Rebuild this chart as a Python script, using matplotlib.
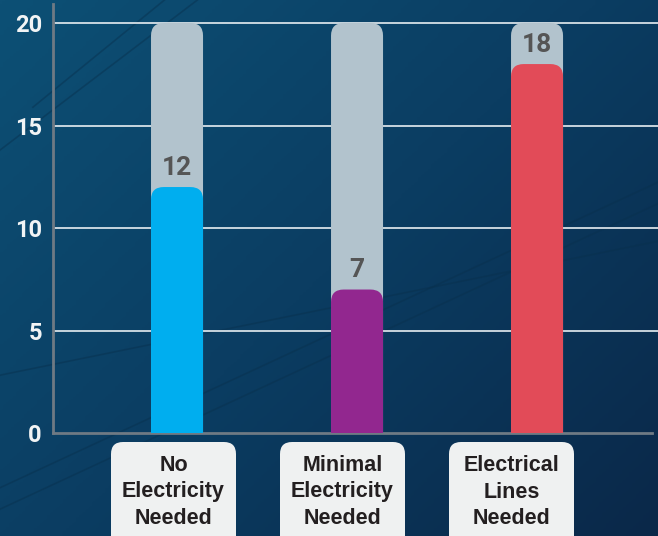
import numpy as np
import matplotlib
matplotlib.use('Agg')
import matplotlib.pyplot as plt
from matplotlib.patches import FancyBboxPatch
from matplotlib.colors import LinearSegmentedColormap

# 数据
categories = ['No\nElectricity\nNeeded', 'Minimal\nElectricity\nNeeded', 'Electrical\nLines\nNeeded']
values = [12, 7, 18]
max_value = 20
bar_colors = ['#00aeef', '#92278f', '#e24b58']
yticks = [0, 5, 10, 15, 20]

W, H = 658, 536
fig = plt.figure(figsize=(W / 100, H / 100), dpi=100)

# 背景渐变
bg = fig.add_axes([0, 0, 1, 1], zorder=-10)
gx, gy = np.meshgrid(np.linspace(0, 1, 200), np.linspace(0, 1, 200))
grad = 0.55 * gx + 0.45 * gy
cmap = LinearSegmentedColormap.from_list('bgc', ['#0d5075', '#0b3d62', '#0a2849'])
bg.imshow(grad, cmap=cmap, aspect='auto', extent=[0, 1, 0, 1], origin='upper')
# 几根电线
for (x0, y0, x1, y1) in [(0.0, 0.05, 1.0, 0.62), (0.0, 0.09, 1.0, 0.66), (0.25, 1.0, 0.05, 0.8),
                         (0.3, 1.0, 0.0, 0.72), (0.0, 0.3, 1.0, 0.55)]:
    bg.plot([x0, x1], [y0, y1], color='#08304d', lw=1.2, alpha=0.45)
bg.set_xlim(0, 1)
bg.set_ylim(0, 1)
bg.axis('off')

ax = fig.add_axes([53 / W, 1 - 433 / H, 605 / W, 429 / H])
ax.patch.set_alpha(0)
ax.set_xlim(-0.689, 2.672)
ax.set_ylim(0, 20.93)

x = np.arange(len(values))
bw = 0.289
aspect = 180 / 20.5  # y单位/x单位 的像素比

for yv in yticks[1:]:
    ax.axhline(yv, color='#e8eef2', lw=1.2, zorder=1)

for i in x:
    gb = FancyBboxPatch((i - bw / 2, -2), bw, max_value + 2,
                        boxstyle='round,pad=0,rounding_size=0.07',
                        mutation_aspect=aspect, fc='#b2c3cd', ec='none', zorder=2)
    ax.add_patch(gb)
    cb = FancyBboxPatch((i - bw / 2, -2), bw, values[i] + 2,
                        boxstyle='round,pad=0,rounding_size=0.07',
                        mutation_aspect=aspect, fc=bar_colors[i], ec='none', zorder=3)
    ax.add_patch(cb)
    ax.text(i, values[i] + 0.95, str(values[i]), ha='center', va='center',
            fontsize=19, fontweight='bold', color='#555555', family='Roboto', zorder=4)

ax.set_yticks(yticks)
ax.set_yticklabels([str(t) for t in yticks], fontsize=17, fontweight='bold',
                   color='#f2f4f5', family='Roboto')
ax.tick_params(axis='y', length=0, pad=8)
ax.set_xticks([])
for s in ['top', 'right']:
    ax.spines[s].set_visible(False)
for s in ['left', 'bottom']:
    ax.spines[s].set_color('#6f7a84')
    ax.spines[s].set_linewidth(2)
ax.spines['bottom'].set_bounds(-0.689, 2.64)

# 底部标签框
box_cx = [173.5, 342.5, 511.5]
for cx, lab in zip(box_cx, categories):
    bx = FancyBboxPatch(((cx - 62.5) / 100, -0.2), 1.25, (H - 442) / 100 + 0.2,
                        boxstyle='round,pad=0,rounding_size=0.12',
                        transform=fig.dpi_scale_trans, fc='#eff1f1', ec='none')
    fig.patches.append(bx)
    fig.text(cx / W, 1 - 492 / H, lab, ha='center', va='center', fontsize=15.5,
             fontweight='bold', color='#231f20', linespacing=1.33,
             family=['Liberation Sans Narrow', 'Liberation Sans', 'DejaVu Sans'])

fig.savefig('out.png', dpi=100)
